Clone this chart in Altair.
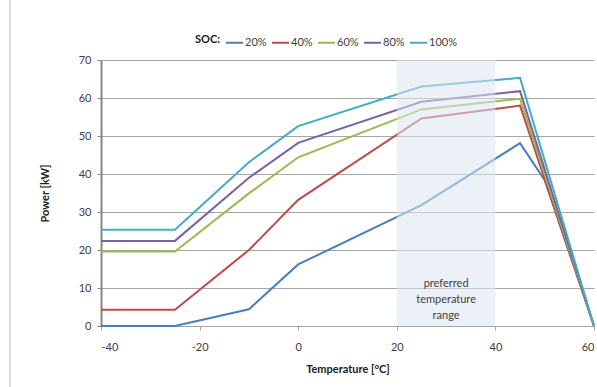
import altair as alt
import pandas as pd

# ---- data ----
soc_labels = ["20%", "40%", "60%", "80%", "100%"]
colors = ["#4a7ebb", "#be4b48", "#98b954", "#7d60a0", "#46aac5"]

temp_20 = [-40, -25, -10, 0, 25, 45, 50, 60]
power_20 = [0, 0, 4.4, 16.2, 31.8, 48.1, 38.4, 0]

temp_other = [-40, -25, -10, 0, 25, 45, 60]
power_40 = [4.3, 4.3, 20.0, 33.2, 54.6, 58.0, 0]
power_60 = [19.6, 19.6, 34.9, 44.4, 57.0, 59.8, 0]
power_80 = [22.4, 22.4, 39.0, 48.2, 59.0, 61.8, 0]
power_100 = [25.3, 25.3, 43.1, 52.6, 63.0, 65.3, 0]

band_start = [20]
band_end = [40]
band_text = [["preferred", "temperature", "range"]]
band_text_x = [30]
band_text_y = [11.0]

x_ticks = [-40, -20, 0, 20, 40, 60]
y_ticks = [0, 10, 20, 30, 40, 50, 60, 70]

rows = []
for t, p in zip(temp_20, power_20):
    rows.append({"T": t, "P": p, "SOC": "20%"})
for lab, series in zip(soc_labels[1:], [power_40, power_60, power_80, power_100]):
    for t, p in zip(temp_other, series):
        rows.append({"T": t, "P": p, "SOC": lab})
df = pd.DataFrame(rows)

band_df = pd.DataFrame({"T": band_start, "T2": band_end})
text_df = pd.DataFrame({"T": band_text_x, "P": band_text_y, "t": band_text})

FONT = "Lato"

x_scale = alt.Scale(domain=[-40, 60], nice=False, zero=False)
y_scale = alt.Scale(domain=[0, 70], nice=False)

x_axis = alt.Axis(
    values=x_ticks, title="Temperature [°C]", grid=False,
    labelExpr="replace(datum.label, '−', '-')",
    domainColor="#a6a6a6", domainWidth=1, tickColor="#a6a6a6", tickSize=4,
    labelFontSize=11, labelColor="#404040", labelPadding=11,
    titleFontSize=11, titleFontWeight="bold", titleColor="#202020", titlePadding=11)
y_axis = alt.Axis(
    values=y_ticks, title="Power [kW]", grid=True, gridColor="#a6a6a6", gridWidth=1,
    domainColor="#868686", domainWidth=2, tickColor="#868686", tickSize=4,
    labelFontSize=11, labelColor="#404040", labelPadding=6,
    titleFontSize=11, titleFontWeight="bold", titleColor="#202020", titlePadding=28)

X = alt.X("T:Q", scale=x_scale, axis=x_axis)
Y = alt.Y("P:Q", scale=y_scale, axis=y_axis)

lines = alt.Chart(df).mark_line(strokeWidth=2, clip=False).encode(
    x=X, y=Y,
    color=alt.Color("SOC:N", scale=alt.Scale(domain=soc_labels, range=colors),
                    legend=alt.Legend(title="SOC:", orient="none", legendX=94, legendY=-27,
                                      direction="horizontal", titleOrient="left",
                                      titleFontWeight="bold", titleFontSize=11, titleColor="#202020",
                                      titlePadding=4, labelFontSize=11, labelColor="#404040",
                                      symbolType="stroke", symbolStrokeWidth=2, symbolSize=289,
                                      labelOffset=1, columnPadding=1)),
    order="T:Q",
    detail="SOC:N",
)

band = alt.Chart(band_df).mark_rect(color="#dce6f2", opacity=0.55).encode(
    x=X, x2="T2:Q",
    y=alt.value(0), y2=alt.value(266),
)

label = alt.Chart(text_df).mark_text(
    font=FONT, fontSize=11, color="#404040", lineHeight=16, baseline="middle", align="center"
).encode(x=X, y=Y, text="t")

frame = alt.Chart(band_df).mark_rule(color="#d9d9d9", strokeWidth=2, clip=False).encode(
    x=alt.value(-91), y=alt.value(-60), y2=alt.value(327),
)

chart = alt.layer(lines, band, label, frame).properties(
    width=493, height=266,
    autosize=alt.AutoSizeParams(type="none"),
    padding={"left": 101, "top": 60, "right": 3, "bottom": 61},
    background="white",
).configure(font=FONT).configure_view(stroke=None)

chart.save("out.html", embed_options={"renderer": "svg", "actions": False})
